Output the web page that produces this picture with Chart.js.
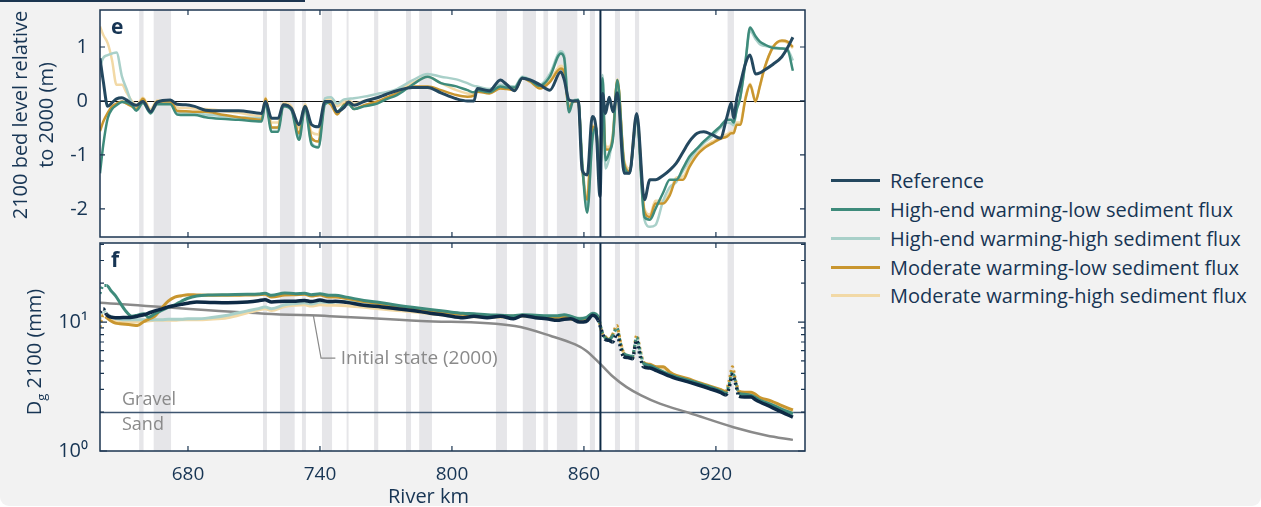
<!DOCTYPE html>
<html>
<head>
<meta charset="utf-8">
<script src="https://cdn.jsdelivr.net/npm/chart.js@4.4.0/dist/chart.umd.min.js"></script>
<style>
  html, body { margin: 0; padding: 0; background: #fff; }
  body { width: 1261px; height: 507px; overflow: hidden; font-family: 'Open Sans', sans-serif; color: #173554; }
  #wrap { position: absolute; left: 0; top: 0; width: 1261px; height: 506px; background: #f2f2f2; border-radius: 0 0 9px 9px; overflow: hidden; }
  #tab { position: absolute; left: 0; top: 0; width: 305px; height: 1.5px; background: #1b3550; }
  canvas { position: absolute; left: 0; }
  .ytitle { position: absolute; font-size: 20px; text-align: center; white-space: nowrap; transform: rotate(-90deg); }
  #legend { position: absolute; left: 831px; top: 166.6px; }
  .row { display: flex; align-items: center; height: 28.7px; font-size: 20px; white-space: nowrap; }
  .swatch { width: 49px; height: 3px; margin-right: 10px; }
  #xtitle { position: absolute; left: 388px; top: 482px; font-size: 20px; }
</style>
</head>
<body>
<div id="wrap">
  <div id="tab"></div>
  <canvas id="ce" width="820" height="240" style="top:0"></canvas>
  <canvas id="cf" width="820" height="267" style="top:240px"></canvas>
  <div class="ytitle" style="left:-86px; top:88px; width:240px; height:54px; line-height:26px;">2100 bed level relative<br>to 2000 (m)</div>
  <div class="ytitle" style="left:-46px; top:337px; width:160px; height:30px; line-height:30px;">D<sub style="font-size:13px">g</sub> 2100 (mm)</div>
  <div id="xtitle">River km</div>
  <div id="legend"></div>
</div>
<script>
// ---- data ----
const xTicks = [680, 740, 800, 860, 920];
const yTicksE = [-2, -1, 0, 1];
const fTickVals = [1, 10];
const fTickLabels = ['10⁰', '10¹'];
const fMinor = [2, 3, 4, 5, 6, 7, 8, 9, 20, 30, 40];

// grey shaded reaches (river km)
const bandFrom = [657.8, 664.4, 714.1, 721.8, 731.8, 740.9, 752.1, 764.6, 779.1, 785.1, 820, 832.2, 841.6, 847.7, 862.7, 874.1, 883.2, 925.3];
const bandTo   = [659.8, 672.3, 715.9, 728.5, 733.6, 745.5, 753.0, 766.5, 781.4, 790.9, 825, 838.2, 843.7, 857.0, 865.0, 876.4, 885.1, 928.2];
const markerKm = 867.5;

const seriesNames = ['Reference', 'High-end warming-low sediment flux', 'High-end warming-high sediment flux',
  'Moderate warming-low sediment flux', 'Moderate warming-high sediment flux'];

// panel e: bed level change (m)
const kmE = [640, 641.5, 643.5, 645.5, 647.5, 650, 652, 654.5, 656.5, 659.5,
  663, 666, 672, 675, 679, 683, 688, 695, 703, 713.5,
  715.2, 718, 721, 723.3, 727, 730.5, 733.2, 736.2, 739.3, 742.3,
  745, 747.8, 751, 753, 755.5, 760, 766, 770, 775, 782,
  789, 795, 802, 807, 810, 811.5, 817, 822, 825, 828.5,
  832, 835.5, 840, 844.5, 849.5, 851, 853.2, 855, 857.4, 859.2,
  861.5, 863.8, 865.5, 867.3, 868.5, 869.8, 871.5, 873.2, 875.2, 878.3,
  880.7, 884, 887.5, 890, 892.5, 896, 899, 902, 905, 908,
  911.5, 914.5, 918.5, 922, 925, 927, 928, 929.5, 931, 933.5,
  935.5, 938, 940, 942, 946, 950, 952.5, 955];
const refE = [0.79, 0.36, -0.1, -0.03, 0.04, 0.06, 0.02, -0.05, -0.08, -0.01,
  -0.2, -0.02, 0.02, -0.06, -0.07, -0.1, -0.17, -0.18, -0.18, -0.23,
  -0.01, -0.32, -0.32, -0.07, -0.14, -0.44, -0.1, -0.44, -0.48, -0.01,
  -0.01, -0.2, -0.12, -0.02, -0.08, -0.01, 0.06, 0.12, 0.19, 0.25,
  0.25, 0.15, 0.04, 0.0, 0.0, 0.23, 0.19, 0.39, 0.3, 0.19,
  0.42, 0.39, 0.3, 0.2, 0.54, 0.4, 0.02, 0.0, 0.0, -1.28,
  -1.37, -0.29, -0.5, -1.77, 0.14, -0.23, 0.07, -0.2, 0.15, -1.34,
  -1.34, -0.23, -1.83, -1.46, -1.46, -1.38, -1.28, -1.15, -0.95, -0.75,
  -0.6, -0.57, -0.63, -0.69, -0.3, -0.04, -0.32, 0.05, 0.3, 0.7,
  0.85, 0.5, 0.52, 0.57, 0.68, 0.82, 0.98, 1.18];
const helE = [-1.34, -0.81, -0.32, -0.15, -0.08, -0.02, -0.03, -0.08, -0.18, -0.04,
  -0.23, -0.06, -0.06, -0.25, -0.26, -0.26, -0.3, -0.33, -0.35, -0.38,
  -0.04, -0.57, -0.57, -0.1, -0.17, -0.72, -0.14, -0.81, -0.86, -0.06,
  -0.02, -0.2, -0.08, -0.06, -0.15, -0.1, -0.05, 0.03, 0.11, 0.3,
  0.45, 0.33, 0.27, 0.2, 0.16, 0.2, 0.16, 0.27, 0.25, 0.25,
  0.43, 0.38, 0.28, 0.45, 0.88, 0.8, -0.21, -0.01, 0.02, -1.15,
  -2.07, -0.72, -0.48, -1.59, 0.42, -1.1, -0.95, -0.7, 0.39, -1.2,
  -1.34, -0.35, -2.15, -2.2, -2.0, -1.7, -1.46, -1.46, -1.25, -1.03,
  -0.88, -0.75, -0.6, -0.47, -0.35, -0.35, -0.4, -0.15, 0.05, 0.75,
  1.36, 1.2, 1.1, 1.05, 0.98, 0.97, 0.95, 0.56];
const hehE = [0.64, 0.8, 0.85, 0.88, 0.9, 0.45, 0.23, -0.04, -0.1, 0.0,
  -0.18, -0.03, -0.03, -0.2, -0.22, -0.23, -0.25, -0.28, -0.3, -0.32,
  0.0, -0.5, -0.5, -0.08, -0.15, -0.66, -0.12, -0.78, -0.85, 0.05,
  0.07, -0.05, 0.03, 0.04, 0.05, 0.08, 0.13, 0.16, 0.22, 0.38,
  0.5, 0.45, 0.4, 0.33, 0.28, 0.27, 0.22, 0.3, 0.28, 0.27,
  0.45, 0.4, 0.3, 0.5, 0.92, 0.85, -0.12, 0.0, 0.03, -1.1,
  -1.95, -0.75, -0.55, -1.5, 0.48, -1.25, -1.05, -0.6, 0.35, -1.25,
  -1.3, -0.4, -2.2, -2.33, -2.3, -1.85, -1.6, -1.5, -1.3, -1.1,
  -0.9, -0.78, -0.65, -0.5, -0.4, -0.42, -0.45, -0.15, 0.05, 0.75,
  1.3, 1.15, 1.05, 1.02, 1.0, 0.97, 0.95, 0.75];
const melE = [-0.56, -0.38, -0.22, -0.1, -0.05, -0.01, -0.05, -0.1, -0.15, 0.04,
  -0.2, -0.01, -0.01, -0.18, -0.19, -0.2, -0.2, -0.25, -0.3, -0.35,
  0.04, -0.49, -0.49, -0.07, -0.14, -0.6, -0.1, -0.69, -0.75, -0.01,
  -0.07, -0.25, -0.06, -0.04, -0.15, -0.08, -0.01, 0.06, 0.14, 0.27,
  0.27, 0.2, 0.11, 0.08, 0.1, 0.17, 0.14, 0.23, 0.22, 0.2,
  0.42, 0.36, 0.23, 0.35, 0.6, 0.54, -0.14, -0.01, 0.0, -1.22,
  -1.83, -0.48, -0.55, -1.46, 0.02, -0.9, -0.9, -0.65, 0.39, -1.15,
  -1.3, -0.29, -2.05, -2.15, -1.9, -1.9, -1.75, -1.46, -1.46, -1.22,
  -1.0, -0.88, -0.78, -0.7, -0.66, -0.6, -0.6, -0.44, -0.44, 0.05,
  0.3, -0.01, 0.28, 0.6, 1.0, 1.12, 1.1, 1.0];
const mehE = [1.38, 1.22, 1.07, 0.75, 0.3, 0.3, 0.16, 0.0, -0.08, 0.06,
  -0.15, 0.01, 0.01, -0.12, -0.13, -0.14, -0.15, -0.18, -0.22, -0.28,
  0.06, -0.4, -0.4, -0.04, -0.1, -0.5, -0.06, -0.58, -0.62, 0.04,
  0.03, -0.1, 0.0, 0.02, -0.05, 0.0, 0.06, 0.12, 0.2, 0.33,
  0.45, 0.33, 0.2, 0.14, 0.13, 0.18, 0.16, 0.25, 0.24, 0.22,
  0.42, 0.37, 0.25, 0.38, 0.65, 0.58, -0.1, 0.0, 0.0, -1.15,
  -1.75, -0.45, -0.5, -1.4, 0.05, -0.85, -0.85, -0.6, 0.4, -1.1,
  -1.25, -0.27, -2.0, -2.1, -1.85, -1.85, -1.7, -1.42, -1.4, -1.18,
  -0.97, -0.85, -0.75, -0.67, -0.62, -0.57, -0.57, -0.4, -0.4, 0.08,
  0.32, 0.02, 0.27, 0.58, 1.0, 1.1, 1.08, 0.98];

// panel f: geometric mean grain size in 2100 (mm)
const kmF = [640, 641.5, 643, 645, 647, 649, 651.5, 654.5, 657, 660,
  662, 665, 668, 671, 674, 677, 680, 684, 690, 698,
  707, 712, 715, 718, 724, 729, 733, 736, 740, 744,
  747, 752, 760, 768, 775, 782, 790, 797, 805, 810,
  816, 822, 828, 832, 838, 843, 848, 851, 854, 858,
  861, 864, 866.5, 868, 869.5, 871.5, 873, 875, 876.5, 878,
  880, 882, 884, 885.5, 887, 890, 893, 896, 899, 902,
  907, 912, 917, 922, 924.5, 926, 927.5, 929, 930.5, 933,
  936, 938, 940, 945, 950, 955];
const refF = [11.9, 12.7, 11.4, 10.9, 10.8, 10.8, 10.85, 10.9, 11.1, 11.4,
  11.7, 12.2, 12.6, 13.1, 13.4, 13.7, 14.0, 14.3, 14.2, 14.1,
  14.3, 14.6, 14.9, 14.3, 14.5, 14.5, 14.7, 14.4, 14.8, 14.4,
  14.5, 14.2, 13.5, 13.1, 12.7, 12.3, 11.7, 11.3, 10.8, 11.1,
  10.8, 11.1, 10.6, 11.2, 10.8, 10.6, 10.3, 10.5, 10.6, 10.0,
  10.1, 11.3, 10.3, 8.6, 7.4, 7.2, 7.0, 8.1, 6.5, 5.4,
  5.3, 5.2, 7.2, 5.5, 4.5, 4.4, 4.2, 4.0, 3.8, 3.64,
  3.45, 3.25, 3.05, 2.85, 2.72, 3.1, 3.9, 3.3, 2.65, 2.62,
  2.62, 2.5, 2.4, 2.2, 2.0, 1.83];
const helF = [16.6, 19.2, 19.2, 17.5, 16.0, 14.2, 12.3, 11.1, 11.3, 11.6,
  10.9, 11.6, 12.3, 13.0, 13.6, 14.5, 15.3, 15.9, 16.2, 16.3,
  16.4, 16.5, 16.7, 16.1, 16.8, 16.6, 16.7, 16.3, 16.6, 16.1,
  16.1, 15.6, 14.7, 14.1, 13.5, 13.0, 12.5, 12.1, 11.7, 11.6,
  11.4, 11.3, 11.2, 11.4, 11.3, 11.2, 11.2, 11.4, 11.1, 10.6,
  10.8, 11.7, 11.0, 8.6, 7.6, 7.3, 7.8, 9.0, 7.0, 5.7,
  5.5, 5.4, 7.6, 6.0, 4.8, 4.6, 4.35, 4.1, 3.9, 3.75,
  3.55, 3.35, 3.15, 2.93, 2.8, 3.3, 4.1, 3.4, 2.8, 2.75,
  2.7, 2.6, 2.47, 2.3, 2.1, 1.95];
const hehF = [10.6, 12.3, 11.6, 11.0, 10.7, 10.5, 10.4, 10.4, 10.4, 10.4,
  10.4, 10.4, 10.4, 10.5, 10.5, 10.5, 10.6, 10.6, 10.8, 11.3,
  12.2, 12.7, 13.1, 12.7, 13.6, 13.9, 14.1, 13.8, 14.3, 14.2,
  14.3, 14.4, 14.3, 13.7, 13.2, 12.8, 12.3, 12.0, 11.6, 11.5,
  11.3, 11.2, 11.1, 11.3, 11.2, 11.1, 11.0, 11.3, 11.0, 10.7,
  10.8, 11.6, 11.0, 8.7, 7.6, 7.3, 7.8, 8.9, 7.0, 5.7,
  5.5, 5.4, 7.5, 6.0, 4.8, 4.6, 4.35, 4.1, 3.9, 3.75,
  3.55, 3.35, 3.15, 2.93, 2.8, 3.3, 4.0, 3.4, 2.8, 2.75,
  2.7, 2.6, 2.47, 2.3, 2.1, 1.95];
const melF = [9.15, 11.3, 10.8, 10.2, 9.8, 9.7, 9.6, 9.5, 9.4, 10.1,
  10.5, 11.1, 12.8, 14.5, 15.6, 16.0, 16.3, 16.2, 16.1, 16.1,
  16.2, 16.3, 16.4, 15.6, 16.2, 16.3, 16.4, 15.9, 16.2, 15.6,
  15.6, 15.2, 14.4, 13.8, 13.2, 12.7, 12.2, 11.8, 11.5, 11.4,
  11.2, 11.1, 11.1, 11.3, 11.1, 11.0, 10.9, 11.1, 10.6, 10.5,
  10.7, 11.5, 10.8, 8.5, 7.8, 7.3, 8.0, 9.4, 7.2, 5.8,
  5.4, 5.3, 7.9, 6.2, 4.9, 4.7, 4.5, 4.5, 4.1, 3.85,
  3.65, 3.4, 3.2, 3.0, 2.9, 3.5, 4.5, 3.5, 2.9, 2.85,
  2.85, 2.75, 2.6, 2.45, 2.25, 2.08];
const mehF = [10.3, 11.5, 11.0, 10.3, 10.1, 10.0, 10.0, 10.0, 10.0, 10.1,
  10.2, 10.3, 10.3, 10.3, 10.3, 10.4, 10.4, 10.4, 10.5, 10.8,
  11.8, 12.4, 12.7, 12.3, 13.2, 13.5, 13.6, 13.3, 13.6, 13.5,
  13.5, 13.4, 13.0, 12.6, 12.3, 12.0, 11.6, 11.3, 11.0, 11.0,
  10.9, 10.9, 10.9, 11.1, 11.0, 10.9, 10.8, 11.0, 10.5, 10.4,
  10.6, 11.4, 10.7, 8.5, 7.7, 7.3, 7.9, 9.2, 7.1, 5.8,
  5.4, 5.3, 7.8, 6.1, 4.85, 4.65, 4.45, 4.4, 4.05, 3.8,
  3.6, 3.37, 3.17, 2.97, 2.87, 3.4, 4.3, 3.45, 2.87, 2.82,
  2.8, 2.7, 2.57, 2.4, 2.2, 2.03];
const initKm = [640, 715, 744.5, 776, 786, 828.6, 845, 856, 861, 867.3, 873, 879.4, 886, 894.5, 908, 928, 943, 955];
const initF = [14.1, 11.6, 11.1, 10.4, 10.2, 9.3, 7.8, 6.7, 6.0, 4.76, 3.8, 3.13, 2.7, 2.33, 1.97, 1.53, 1.32, 1.22];
const sandLimit = 2; // mm
// reaches where the 2100 grain size was plotted as dots
const dotRanges = [[640, 643], [866.5, 869.5], [873, 878], [882, 887], [924.5, 930.5]];

// ---- style ----
const txt = '#173554';
const frameCol = '#1b3550';
const colors = ['#24485f', '#3e8b7b', '#a9d0c9', '#c9962f', '#f2d9a6'];
const refF_col = '#0e2a45';

Chart.defaults.font.family = "'Open Sans', sans-serif";
Chart.defaults.color = txt;

// legend
document.getElementById('legend').innerHTML = seriesNames.map((n, i) =>
  `<div class="row"><div class="swatch" style="background:${colors[i]}"></div>${n}</div>`).join('');

const pts = (km, v) => km.map((k, i) => ({ x: k, y: v[i] }));
const dotted = ctx => {
  const a = ctx.p0.parsed.x, b = ctx.p1.parsed.x;
  return dotRanges.some(r => a >= r[0] && b <= r[1]) ? [2, 3] : undefined;
};
const line = (label, km, v, color, w, dots) => ({
  label, data: pts(km, v), borderColor: color, borderWidth: w, pointRadius: 0,
  cubicInterpolationMode: 'monotone', fill: false,
  segment: dots ? { borderDash: dotted } : undefined
});

function logInterp(km, v, k) {
  for (let i = 1; i < km.length; i++) {
    if (k <= km[i]) {
      const t = (k - km[i - 1]) / (km[i] - km[i - 1]);
      return Math.pow(10, Math.log10(v[i - 1]) + t * (Math.log10(v[i]) - Math.log10(v[i - 1])));
    }
  }
  return v[v.length - 1];
}

// background, bands, frame, inward ticks
function makeDeco(cfg) {
  return {
    id: 'deco' + cfg.tag,
    beforeDatasetsDraw(chart) {
      const { ctx, chartArea: a, scales: { x, y } } = chart;
      ctx.save();
      ctx.fillStyle = '#ffffff';
      ctx.fillRect(a.left, a.top, a.width, a.height);
      ctx.fillStyle = '#e6e6e9';
      bandFrom.forEach((s, i) => {
        const x0 = x.getPixelForValue(s);
        ctx.fillRect(x0, a.top, x.getPixelForValue(bandTo[i]) - x0, a.height);
      });
      const yh = Math.round(y.getPixelForValue(cfg.hline)) + 0.5;
      ctx.strokeStyle = cfg.hColor;
      ctx.lineWidth = cfg.hWidth;
      ctx.beginPath(); ctx.moveTo(a.left, yh); ctx.lineTo(a.right, yh); ctx.stroke();
      ctx.restore();
    },
    afterDatasetsDraw(chart) {
      const { ctx, chartArea: a, scales: { x, y } } = chart;
      ctx.save();
      const xv = x.getPixelForValue(markerKm);
      ctx.strokeStyle = '#0e2a45'; ctx.lineWidth = 2;
      ctx.beginPath(); ctx.moveTo(xv, a.top); ctx.lineTo(xv, a.bottom); ctx.stroke();

      ctx.strokeStyle = frameCol; ctx.lineWidth = 1.5;
      ctx.strokeRect(a.left, a.top, a.width, a.height);
      ctx.lineWidth = 1.2;
      ctx.beginPath();
      xTicks.forEach(t => {
        const p = x.getPixelForValue(t);
        ctx.moveTo(p, a.top); ctx.lineTo(p, a.top + 5);
        ctx.moveTo(p, a.bottom); ctx.lineTo(p, a.bottom - 5);
      });
      cfg.yTicks.forEach(([t, len]) => {
        const p = y.getPixelForValue(t);
        ctx.moveTo(a.left, p); ctx.lineTo(a.left + len, p);
        ctx.moveTo(a.right, p); ctx.lineTo(a.right - len, p);
      });
      ctx.stroke();

      ctx.fillStyle = txt;
      ctx.font = "bold 21px 'Open Sans', sans-serif";
      ctx.textBaseline = 'alphabetic';
      ctx.fillText(cfg.tag, a.left + 11, a.top + 24);
      if (cfg.extra) cfg.extra(chart);
      ctx.restore();
    }
  };
}

new Chart(document.getElementById('ce'), {
  type: 'line',
  data: {
    datasets: [
      line(seriesNames[0], kmE, refE, colors[0], 3),
      line(seriesNames[1], kmE, helE, colors[1], 2.5),
      line(seriesNames[3], kmE, melE, colors[3], 2.5),
      line(seriesNames[2], kmE, hehE, colors[2], 2.5),
      line(seriesNames[4], kmE, mehE, colors[4], 2.5)
    ]
  },
  options: {
    responsive: false, animation: false, events: [],
    layout: { padding: { top: 10, bottom: 3, left: 0, right: 15 } },
    plugins: { legend: { display: false }, tooltip: { enabled: false } },
    scales: {
      x: { type: 'linear', min: 640, max: 960.5, display: false },
      y: {
        type: 'linear', min: -2.52, max: 1.685,
        grid: { display: false, drawTicks: false }, border: { display: false },
        afterBuildTicks: s => { s.ticks = yTicksE.map(v => ({ value: v })); },
        afterFit: s => { s.width = 100; s.paddingTop = 0; s.paddingBottom = 0; },
        ticks: { padding: 12, font: { size: 20 }, color: txt, callback: v => String(v) }
      }
    }
  },
  plugins: [makeDeco({ tag: 'e', hline: 0, hColor: '#111111', hWidth: 1.2,
    yTicks: yTicksE.map(v => [v, 5]) })]
});

const fExtra = chart => {
  const { ctx, scales: { x, y } } = chart;
  const gy = y.getPixelForValue(sandLimit);
  const gx = x.getPixelForValue(650);
  ctx.fillStyle = '#8a8a8a';
  ctx.font = "18px 'Open Sans', sans-serif";
  ctx.textBaseline = 'middle';
  ctx.fillText('Gravel', gx, gy - 12);
  ctx.fillText('Sand', gx, gy + 13);
  // label for the initial state line
  const k0 = 737;
  const y0 = y.getPixelForValue(logInterp(initKm, initF, k0));
  const yl = y.getPixelForValue(5.25);
  ctx.strokeStyle = '#8a8a8a'; ctx.lineWidth = 1.2;
  ctx.beginPath();
  ctx.moveTo(x.getPixelForValue(k0), y0);
  ctx.lineTo(x.getPixelForValue(740.5), yl);
  ctx.lineTo(x.getPixelForValue(747), yl);
  ctx.stroke();
  ctx.font = "19px 'Open Sans', sans-serif";
  ctx.fillText('Initial state (2000)', x.getPixelForValue(749.4), yl);
};

new Chart(document.getElementById('cf'), {
  type: 'line',
  data: {
    datasets: [
      line(seriesNames[0], kmF, refF, refF_col, 3.5, true),
      line(seriesNames[1], kmF, helF, colors[1], 3, true),
      line(seriesNames[3], kmF, melF, colors[3], 3, true),
      line(seriesNames[2], kmF, hehF, colors[2], 3, true),
      line(seriesNames[4], kmF, mehF, colors[4], 3, true),
      line('Initial state (2000)', initKm, initF, '#8a8a8a', 2.5)
    ]
  },
  options: {
    responsive: false, animation: false, events: [],
    layout: { padding: { top: 3, bottom: 0, left: 0, right: 15 } },
    plugins: { legend: { display: false }, tooltip: { enabled: false } },
    scales: {
      x: {
        type: 'linear', min: 640, max: 960.5,
        grid: { display: false, drawTicks: false }, border: { display: false },
        afterBuildTicks: s => { s.ticks = xTicks.map(v => ({ value: v })); },
        afterFit: s => { s.height = 56; s.paddingLeft = 0; s.paddingRight = 0; },
        ticks: { padding: 12, font: { size: 19 }, color: txt, maxRotation: 0, autoSkip: false }
      },
      y: {
        type: 'logarithmic', min: 1, max: 41,
        grid: { display: false, drawTicks: false }, border: { display: false },
        afterBuildTicks: s => { s.ticks = fTickVals.map(v => ({ value: v })); },
        afterFit: s => { s.width = 100; s.paddingTop = 0; s.paddingBottom = 0; },
        ticks: { padding: 12, font: { size: 20 }, color: txt,
          callback: v => fTickLabels[fTickVals.indexOf(v)] || '' }
      }
    }
  },
  plugins: [makeDeco({ tag: 'f', hline: sandLimit, hColor: '#3e5670', hWidth: 1.5,
    yTicks: fTickVals.map(v => [v, 7]).concat(fMinor.map(v => [v, 4])), extra: fExtra })]
});
</script>
</body>
</html>
